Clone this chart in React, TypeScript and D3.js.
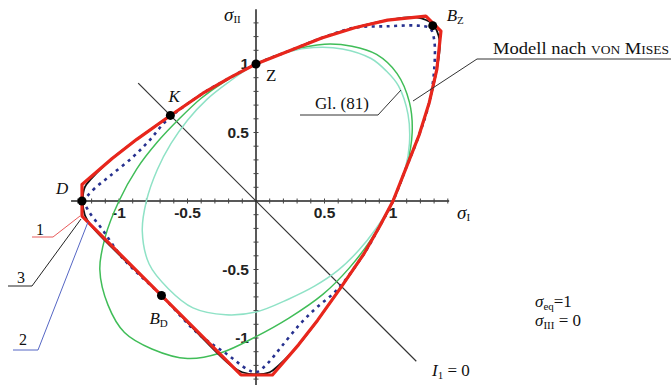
import React from "react";
import * as d3 from "d3";

type Pt = [number, number];

// Failure curves in the principal stress plane (sigma_I, sigma_II), sigma_III = 0
const curve1: Pt[] = [
  [-1.27, -0.11], [-1.27, 0.12], [-1.05, 0.31], [-0.87, 0.45], [-0.63, 0.62],
  [-0.39, 0.785], [-0.19, 0.9], [0.0, 1.0], [0.24, 1.095], [0.48, 1.19],
  [0.72, 1.265], [0.96, 1.32], [1.24, 1.35], [1.35, 1.24], [1.32, 0.96],
  [1.265, 0.72], [1.19, 0.48], [1.095, 0.24], [1.0, 0.0], [0.9, -0.19],
  [0.785, -0.39], [0.62, -0.63], [0.45, -0.87], [0.31, -1.05], [0.12, -1.27],
  [-0.11, -1.27],
];

const curve3: Pt[] = [
  [-1.265, 0.0], [-1.25, 0.1], [-1.2, 0.165], [-1.05, 0.31], [-0.87, 0.45],
  [-0.63, 0.62], [-0.39, 0.785], [-0.19, 0.9], [0.0, 1.0], [0.24, 1.095],
  [0.48, 1.19], [0.72, 1.265], [0.96, 1.32], [1.17, 1.34], [1.29, 1.29],
  [1.34, 1.17], [1.32, 0.96], [1.265, 0.72], [1.19, 0.48], [1.095, 0.24],
  [1.0, 0.0], [0.9, -0.19], [0.785, -0.39], [0.62, -0.63], [0.45, -0.87],
  [0.31, -1.05], [0.165, -1.2], [0.1, -1.25], [0.0, -1.265], [-0.1, -1.25],
  [-0.19, -1.195], [-0.69, -0.69], [-1.195, -0.19], [-1.25, -0.1],
];

const curve2: Pt[] = [
  [-1.25, 0.0], [-1.19, 0.08], [-1.07, 0.18], [-0.9, 0.32], [-0.78, 0.44],
  [-0.65, 0.59], [-0.39, 0.785], [-0.19, 0.9], [0.0, 1.0], [0.24, 1.095],
  [0.48, 1.19], [0.72, 1.265], [0.95, 1.275], [1.18, 1.28], [1.27, 1.26],
  [1.3, 1.18], [1.3, 0.95], [1.265, 0.72], [1.19, 0.48], [1.095, 0.24],
  [1.0, 0.0], [0.9, -0.19], [0.785, -0.39], [0.59, -0.65], [0.44, -0.78],
  [0.32, -0.9], [0.18, -1.07], [0.08, -1.19], [0.0, -1.25], [-0.06, -1.23],
  [-0.21, -1.12], [-0.42, -0.97], [-0.69, -0.69], [-0.97, -0.42],
  [-1.12, -0.21], [-1.23, -0.06],
];

const vonMisesCurve: Pt[] = [
  [1.0, 0.0], [1.1, 0.26], [1.14, 0.5], [1.12, 0.72], [1.03, 0.93],
  [0.88, 1.07], [0.7, 1.13], [0.5, 1.145], [0.26, 1.1], [0.0, 1.0],
  [-0.24, 0.865], [-0.4, 0.75], [-0.56, 0.6], [-0.72, 0.43], [-0.87, 0.235],
  [-1.0, 0.0], [-1.1, -0.26], [-1.14, -0.5], [-1.08, -0.76], [-0.96, -0.96],
  [-0.76, -1.08], [-0.5, -1.15], [-0.26, -1.11], [0.0, -0.99], [0.24, -0.855],
  [0.49, -0.68], [0.68, -0.49], [0.84, -0.28],
];

const gl81Curve: Pt[] = [
  [1.0, 0.0], [1.09, 0.24], [1.12, 0.42], [1.11, 0.63], [1.04, 0.84],
  [0.95, 0.95], [0.84, 1.04], [0.63, 1.11], [0.42, 1.12], [0.24, 1.09],
  [0.0, 1.0], [-0.21, 0.86], [-0.36, 0.74], [-0.5, 0.59], [-0.62, 0.42],
  [-0.72, 0.23], [-0.8, 0.0], [-0.83, -0.22], [-0.78, -0.46], [-0.64, -0.64],
  [-0.46, -0.78], [-0.22, -0.83], [0.0, -0.81], [0.24, -0.715], [0.43, -0.62],
  [0.6, -0.505], [0.75, -0.36], [0.87, -0.21],
];

const hydrostaticZeroLine: Pt[] = [[-0.86, 0.86], [1.17, -1.17]];

const namedPoints: { name: string; sub?: string; p: Pt; dx: number; dy: number; italic: boolean }[] = [
  { name: "Z", p: [0, 1], dx: 10, dy: 17, italic: false },
  { name: "K", p: [-0.625, 0.625], dx: -2, dy: -13, italic: true },
  { name: "D", p: [-1.27, 0], dx: -26, dy: -7, italic: true },
  { name: "B", sub: "Z", p: [1.29, 1.28], dx: 14, dy: -5, italic: true },
  { name: "B", sub: "D", p: [-0.69, -0.69], dx: -12, dy: 28, italic: true },
];

const xTickValues = [-1, -0.5, 0.5, 1];
const xTickLabels = ["-1", "-0.5", "0.5", "1"];
const yTickValues = [-1, -0.5, 0.5, 1];
const yTickLabels = ["-1", "-0.5", "0.5", "1"];

const RED = "#e8261c";
const GREEN = "#40bd58";
const AQUA = "#8fe2c6";
const BLUE = "#27318f";
const SERIF = "'Liberation Serif', 'Times New Roman', serif";
const SANS = "'Liberation Sans', Arial, sans-serif";

export default function App() {
  const x = d3.scaleLinear().domain([-1, 1]).range([119, 393]);
  const y = d3.scaleLinear().domain([-1, 1]).range([338, 64]);

  const closed = (c: d3.CurveFactory) =>
    d3.line<Pt>().x((d) => x(d[0])).y((d) => y(d[1])).curve(c);
  const smooth = closed(d3.curveCatmullRomClosed.alpha(0.5));
  const poly = closed(d3.curveLinearClosed);
  const straight = d3.line<Pt>().x((d) => x(d[0])).y((d) => y(d[1]));

  const minorX = d3.range(-13, 15).map((i) => i / 10).filter((v) => Math.abs(v) > 1e-9);
  const minorY = d3.range(-13, 14).map((i) => i / 10).filter((v) => Math.abs(v) > 1e-9);

  return (
    <svg
      width={671}
      height={385}
      viewBox="0 0 671 385"
      style={{ position: "absolute", left: 0, top: 0, background: "#fff" }}
    >
      {/* axes */}
      <line x1={x(-1.35)} x2={x(1.41)} y1={y(0)} y2={y(0)} stroke="#222" strokeWidth={1.5} />
      <line x1={x(0)} x2={x(0)} y1={y(1.4)} y2={y(-1.36)} stroke="#222" strokeWidth={1.5} />
      {minorX.map((v) => (
        <line key={"tx" + v} x1={x(v)} x2={x(v)} y1={y(0) - 2.5} y2={y(0) + 2.5} stroke="#444" strokeWidth={1} />
      ))}
      {minorY.map((v) => (
        <line key={"ty" + v} x1={x(0) - 2.5} x2={x(0) + 2.5} y1={y(v)} y2={y(v)} stroke="#444" strokeWidth={1} />
      ))}
      {xTickValues.map((v, i) => (
        <text key={"lx" + v} x={x(v)} y={y(0) + 17} textAnchor="middle" fontFamily={SANS} fontWeight="bold" fontSize={15.5} fill="#222">
          {xTickLabels[i]}
        </text>
      ))}
      {yTickValues.map((v, i) => (
        <text key={"ly" + v} x={x(0) - 7} y={y(v) + 5} textAnchor="end" fontFamily={SANS} fontWeight="bold" fontSize={15.5} fill="#222">
          {yTickLabels[i]}
        </text>
      ))}

      {/* axis titles */}
      <text x={224} y={21} fontFamily={SERIF} fontSize={19} fontStyle="italic" fill="#111">
        σ<tspan fontSize={11} fontStyle="normal" dy={2}>II</tspan>
      </text>
      <text x={457} y={219} fontFamily={SERIF} fontSize={19} fontStyle="italic" fill="#111">
        σ<tspan fontSize={11} fontStyle="normal" dy={2}>I</tspan>
      </text>

      {/* I1 = 0 line */}
      <path d={straight(hydrostaticZeroLine) || ""} stroke="#333" strokeWidth={1.2} fill="none" />

      {/* elliptic criteria */}
      <path d={smooth(vonMisesCurve) || ""} stroke={GREEN} strokeWidth={1.5} fill="none" />
      <path d={smooth(gl81Curve) || ""} stroke={AQUA} strokeWidth={1.5} fill="none" />

      {/* curves 2, 3, 1 */}
      <path d={smooth(curve2) || ""} stroke={BLUE} strokeWidth={2.6} fill="none" strokeDasharray="3 4.5" />
      <path d={smooth(curve3) || ""} stroke="#111" strokeWidth={1.8} fill="none" />
      <path d={poly(curve1) || ""} stroke={RED} strokeWidth={3.2} fill="none" strokeLinejoin="round" />

      {/* named points */}
      {namedPoints.map((n) => (
        <g key={n.name + (n.sub || "")}>
          <circle cx={x(n.p[0])} cy={y(n.p[1])} r={4.5} fill="#000" />
          <text x={x(n.p[0]) + n.dx} y={y(n.p[1]) + n.dy} fontFamily={SERIF} fontSize={17} fontStyle={n.italic ? "italic" : "normal"} fill="#111">
            {n.name}
            {n.sub && (
              <tspan fontSize={11} fontStyle="normal" dy={3}>{n.sub}</tspan>
            )}
          </text>
        </g>
      ))}

      {/* annotations */}
      <text x={315} y={109} fontFamily={SERIF} fontSize={17} fill="#111">Gl. (81)</text>
      <polyline points="300,115 378,115 401,90" stroke="#333" strokeWidth={1} fill="none" />

      <text x={493} y={54} fontFamily={SERIF} fontSize={16.5} fill="#111" textLength={176} lengthAdjust="spacingAndGlyphs">
        Modell nach <tspan fontVariant="small-caps">von Mises</tspan>
      </text>
      <polyline points="671,59 477,59 413,101" stroke="#333" strokeWidth={1} fill="none" />

      <text x={535} y={307} fontFamily={SERIF} fontSize={17} fill="#111">
        <tspan fontStyle="italic">σ</tspan>
        <tspan fontSize={11} dy={3}>eq</tspan>
        <tspan dy={-3}>=1</tspan>
      </text>
      <text x={535} y={326} fontFamily={SERIF} fontSize={17} fill="#111">
        <tspan fontStyle="italic">σ</tspan>
        <tspan fontSize={11} dy={3}>III</tspan>
        <tspan dy={-3}> = 0</tspan>
      </text>
      <text x={432} y={376} fontFamily={SERIF} fontSize={17} fill="#111">
        <tspan fontStyle="italic">I</tspan>
        <tspan fontSize={11} dy={3}>1</tspan>
        <tspan dy={-3}> = 0</tspan>
      </text>

      {/* curve numbers */}
      <text x={36} y={235} fontFamily={SERIF} fontSize={16} fill="#111">1</text>
      <polyline points="32,237 53,237 80,216" stroke="#e85a5a" strokeWidth={1} fill="none" />
      <text x={17} y={283} fontFamily={SERIF} fontSize={16} fill="#111">3</text>
      <polyline points="8,286 32,286 81,219" stroke="#222" strokeWidth={1} fill="none" />
      <text x={19} y={345} fontFamily={SERIF} fontSize={16} fill="#111">2</text>
      <polyline points="13,350 38,350 88,222" stroke="#5566c4" strokeWidth={1} fill="none" />
    </svg>
  );
}
